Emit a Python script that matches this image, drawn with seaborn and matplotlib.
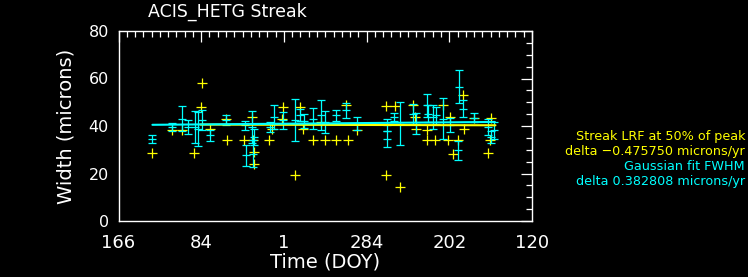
import numpy as np
import pandas as pd
import matplotlib
matplotlib.use("Agg")
import matplotlib.pyplot as plt
import seaborn as sns
from matplotlib.ticker import MultipleLocator, FixedLocator

# ---------------- data ----------------
# time in days since the first tick (ticks every 283 days, labelled by DOY)
tick_days = [0, 283, 566, 849, 1132, 1415]
tick_labels = ["166", "84", "1", "284", "202", "120"]

# Gaussian fit FWHM (cyan) with error
gauss_t = [116, 184, 216, 237, 262, 273, 285, 314, 369, 433, 456, 461, 436, 464,
           518, 533, 562, 605, 621, 635, 667, 692, 707, 744, 778, 817, 918, 920,
           944, 963, 1009, 1018, 1055, 1060, 1077, 1085, 1111, 1134, 1166, 1180,
           1163, 1218, 1265, 1286, 1275]
gauss_w = [34.7, 39.6, 43.1, 39.6, 39.6, 38.9, 42.4, 36.1, 42.4, 40.3, 39.6, 28.4,
           27.6, 35.4, 39.6, 43.8, 42.4, 42.4, 44.5, 42.0, 43.1, 44.5, 41.7, 44.5,
           46.6, 41.0, 40.5, 34.5, 43.8, 41.0, 45.2, 41.0, 48.7, 45.2, 43.8, 44.5,
           43.1, 40.3, 56.5, 47.3, 29.7, 43.5, 39.6, 38.2, 35.5]
gauss_err = [1.7, 1.8, 5.3, 2.8, 6.7, 7.2, 4.2, 2.3, 2.1, 1.8, 6.7, 5.6, 4.5, 3.5,
             2.0, 4.9, 3.5, 8.8, 2.5, 3.0, 4.4, 6.3, 4.7, 2.3, 3.2, 2.7, 2.5, 3.5,
             1.8, 9.1, 4.2, 4.4, 4.7, 3.5, 5.1, 3.7, 8.6, 3.0, 7.0, 3.5, 4.1, 1.8,
             3.5, 3.5, 2.5]

# Streak LRF at 50% of peak (yellow)
lrf_t = [116, 184, 216, 287, 283, 259, 314, 369, 371, 430, 459, 456, 462, 463,
         516, 524, 564, 560, 605, 621, 632, 667, 692, 707, 743, 778, 786, 817,
         914, 946, 916, 963, 1009, 1015, 1017, 1055, 1057, 1083, 1109, 1129, 1134,
         1146, 1163, 1180, 1182, 1218, 1275, 1272, 1263]
lrf_w = [28.8, 38.2, 38.2, 57.9, 48.0, 28.8, 38.9, 43.1, 34.0, 34.0, 34.0, 43.8,
         29.0, 24.1, 34.0, 38.9, 48.0, 43.1, 19.2, 48.0, 38.9, 34.0, 41.7, 34.0,
         34.0, 48.7, 34.0, 38.5, 48.3, 48.3, 19.2, 14.3, 48.7, 43.8, 38.9, 38.5,
         34.0, 34.0, 48.7, 34.0, 43.8, 28.4, 34.0, 53.2, 38.6, 43.5, 43.5, 34.0,
         28.8]

# fitted trend lines (end points)
gauss_fit_t = [116, 1288]
gauss_fit_w = [40.5, 41.7]
lrf_fit_t = [280, 1290]
lrf_fit_w = [40.6, 40.3]

title = "ACIS_HETG Streak"
legend_lines = [("Streak LRF at 50% of peak", "yellow"),
                ("delta \u22120.475750 microns/yr", "yellow"),
                ("Gaussian fit FWHM", "cyan"),
                ("delta 0.382808 microns/yr", "cyan")]

# ---------------- style ----------------
sns.set_style("dark")
plt.rcParams.update({
    "figure.facecolor": "black",
    "axes.facecolor": "black",
    "axes.edgecolor": "white",
    "text.color": "white",
    "axes.labelcolor": "white",
    "xtick.color": "white",
    "ytick.color": "white",
    "axes.grid": False,
})
plt.rcParams["font.family"] = ["DejaVu Sans"]

fig = plt.figure(figsize=(7.48, 2.77), dpi=100)
ax = fig.add_axes([118.5 / 748, 56 / 277, (532 - 118.5) / 748, 190 / 277])
ax.set_facecolor("black")

lrf_df = pd.DataFrame({"t": lrf_t, "w": lrf_w})
sns.scatterplot(data=lrf_df, x="t", y="w", marker="+", color="#ffff00",
                s=55, linewidth=0.9, ax=ax, zorder=2, legend=False)

ax.errorbar(gauss_t, gauss_w, yerr=gauss_err, fmt="_", color="#00ffff",
            ecolor="#00ffff", elinewidth=0.9, capsize=2.9, capthick=0.9,
            markersize=6, markeredgewidth=0.9, zorder=3)

sns.lineplot(x=lrf_fit_t, y=lrf_fit_w, color="#ffff00", linewidth=1.5, ax=ax, zorder=4)
sns.lineplot(x=gauss_fit_t, y=gauss_fit_w, color="#00ffff", linewidth=1.5, ax=ax, zorder=5)

ax.set_xlim(tick_days[0], tick_days[-1])
ax.set_ylim(0, 80)
ax.xaxis.set_major_locator(FixedLocator(tick_days))
ax.set_xticklabels(tick_labels)
ax.xaxis.set_minor_locator(MultipleLocator(28.3))
ax.yaxis.set_major_locator(MultipleLocator(20))
ax.yaxis.set_minor_locator(MultipleLocator(5))
ax.tick_params(which="both", direction="in", top=True, right=True,
               color="white", width=0.9)
ax.tick_params(which="major", length=8)
ax.tick_params(which="minor", length=4)
ax.tick_params(axis="x", which="major", labelsize=13, pad=9)
ax.tick_params(axis="y", which="major", labelsize=11.5, pad=7)
for sp in ax.spines.values():
    sp.set_color("white")
    sp.set_linewidth(1.0)

ax.set_xlabel("Time (DOY)", fontsize=14, labelpad=1)
ax.set_ylabel("Width (microns)", fontsize=14, labelpad=9)

fig.text(227 / 748, 1 - 12 / 277, title, ha="center", va="center", fontsize=12.5)

ys = [137, 152, 167, 182]
for (txt, col), yp in zip(legend_lines, ys):
    fig.text(745 / 748, 1 - yp / 277, txt, ha="right", va="center",
             fontsize=9.2, color=col)

fig.savefig("out.png", dpi=100, facecolor="black")
